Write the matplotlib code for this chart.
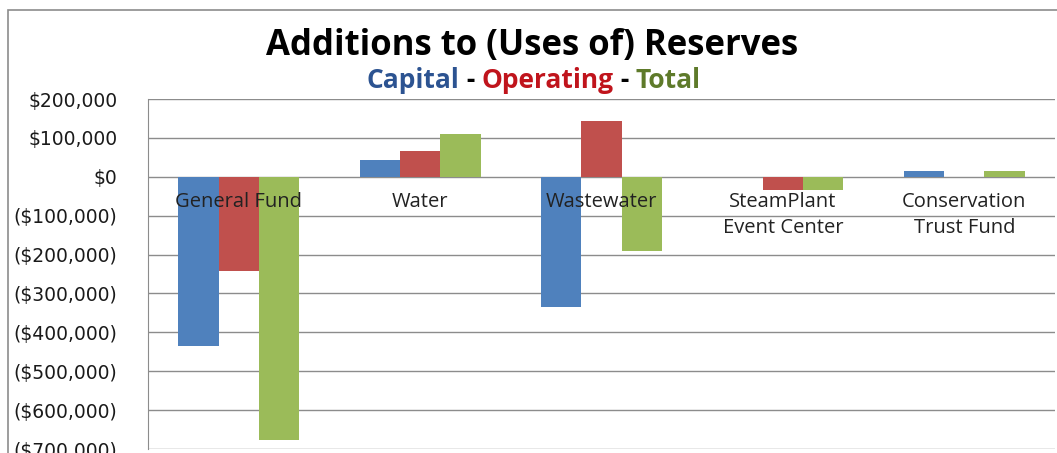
#!/usr/bin/env python3
"""Additions to (uses of) reserves by fund: capital, operating and total."""

import matplotlib

matplotlib.use("Agg")
import matplotlib.pyplot as plt
import numpy as np
from matplotlib.patches import Rectangle
from matplotlib.ticker import FuncFormatter

funds = ["General Fund", "Water", "Wastewater", "SteamPlant\nEvent Center", "Conservation\nTrust Fund"]
capital = [-435000, 42000, -336000, 0, 15000]
operating = [-241000, 67000, 144000, -33000, 0]
total = [-676000, 109000, -192000, -33000, 15000]

series = [("Capital", capital, "#4F81BD"), ("Operating", operating, "#C0504D"), ("Total", total, "#9BBB59")]
subtitle_colors = {"Capital": "#2C5391", "Operating": "#C0141C", "Total": "#5E7A2A"}

W, H = 1057, 453
GRID = "#8C8C8C"


def money(v, _pos=None):
    if v < 0:
        return f"(${-v:,.0f})"
    return f"${v:,.0f}"


fig = plt.figure(figsize=(W / 100, H / 100), dpi=100)
fig.patch.set_facecolor("white")

# outer chart frame
fig.add_artist(Rectangle((8 / W, -0.1), 1.2, 1 - 10 / H + 0.1, transform=fig.transFigure,
                         fill=False, edgecolor=GRID, linewidth=1.2))

ax = fig.add_axes([148 / W, 1 - 449 / H, 907 / W, 350 / H])
x = np.arange(len(funds))
width = 0.222
for i, (name, vals, color) in enumerate(series):
    ax.bar(x + (i - 1) * width, vals, width, color=color, zorder=2, label=name)

ax.set_xlim(-0.5, len(funds) - 0.5)
ax.set_ylim(-700000, 200000)
ax.set_yticks(np.arange(-700000, 200001, 100000))
ax.yaxis.set_major_formatter(FuncFormatter(money))
ax.grid(True, axis="y", color=GRID, linewidth=1, zorder=0)
ax.set_xticks([])
ax.tick_params(axis="y", length=0, pad=22, labelsize=13.5, labelcolor="#1a1a1a")
for lbl in ax.get_yticklabels():
    lbl.set_fontfamily("DejaVu Sans")
for side in ("top", "right", "bottom"):
    ax.spines[side].set_visible(False)
ax.spines["left"].set_color(GRID)

# category names sit just under the zero line, over the bars
for xi, name in zip(x, funds):
    ax.text(xi, -38000, name, ha="center", va="top", fontsize=14.5, family="Open Sans",
            color="#222222", linespacing=1.42, zorder=5)

fig.text(532 / W, 1 - 46 / H, "Additions to (Uses of) Reserves", ha="center", va="center",
         fontsize=25, fontweight="bold", family="Open Sans", color="black")

# multi-coloured subtitle built from pieces
pieces = [("Capital", subtitle_colors["Capital"]), (" - ", "black"),
          ("Operating", subtitle_colors["Operating"]), (" - ", "black"),
          ("Total", subtitle_colors["Total"])]
renderer = fig.canvas.get_renderer()
texts = []
for s, c in pieces:
    t = fig.text(0, 1 - 80 / H, s, ha="left", va="center", fontsize=19, fontweight="bold",
                 family="Open Sans", color=c)
    texts.append(t)
widths = [t.get_window_extent(renderer).width for t in texts]
start = 534 - sum(widths) / 2
for t, w in zip(texts, widths):
    t.set_x(start / W)
    start += w

fig.savefig("out.png", dpi=100)
